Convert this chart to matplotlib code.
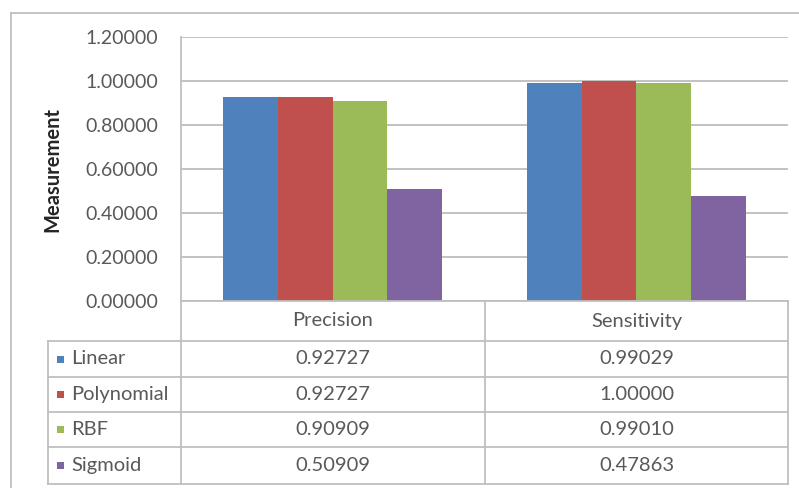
import matplotlib
matplotlib.use("Agg")
import matplotlib.pyplot as plt
from matplotlib.patches import Rectangle
from matplotlib.lines import Line2D

plt.rcParams['font.family'] = ['Lato', 'DejaVu Sans']

categories = ["Precision", "Sensitivity"]
series = ["Linear", "Polynomial", "RBF", "Sigmoid"]
values = {
    "Linear": [0.92727, 0.99029],
    "Polynomial": [0.92727, 1.00000],
    "RBF": [0.90909, 0.99010],
    "Sigmoid": [0.50909, 0.47863],
}
colors = ["#4F81BD", "#C0504D", "#9BBB59", "#8064A2"]
yticks = [0.0, 0.2, 0.4, 0.6, 0.8, 1.0, 1.2]

W, H = 799, 488
fig = plt.figure(figsize=(W / 100, H / 100), dpi=100)
fig.patch.set_facecolor("white")

def fx(px):
    return px / W

def fy(py):
    return 1 - py / H

text_col = "#595959"
grid_col = "#BDBDBD"
line_col = "#BFBFBF"
tsize = 14.5

# plot area geometry (pixels)
left, right, top, bottom = 181, 788, 37, 301
ax = fig.add_axes([fx(left), fy(bottom), fx(right - left), (bottom - top) / H])
ax.set_xlim(-0.5, len(categories) - 0.5)
ax.set_ylim(0, 1.2)

group = 0.72
bw = group / len(series)
for i, (name, c) in enumerate(zip(series, colors)):
    offs = -group / 2 + bw * (i + 0.5)
    ax.bar([k + offs for k in range(len(categories))], values[name], width=bw,
           color=c, zorder=3, linewidth=0)

ax.set_yticks(yticks)
ax.set_yticklabels([f"{t:.5f}" for t in yticks], color=text_col, fontsize=14)
ax.tick_params(axis="y", length=0, pad=16.5)
ax.set_xticks([])
ax.yaxis.grid(True, color=grid_col, linewidth=1.3, zorder=0)
for s in ["top", "right", "bottom"]:
    ax.spines[s].set_visible(False)
ax.spines["left"].set_color(line_col)
ax.spines["left"].set_linewidth(1.3)
ax.set_ylabel("Measurement", fontsize=14.5, fontweight="bold", color="#262626")
ax.yaxis.set_label_coords((62 - left) / (right - left), 0.5)

# data table below the plot area
col_x = [left, 485, right]
row_y = [bottom, 341, 377, 412, 447, 484]
tbl_left = 48

def hline(y, x0, x1):
    fig.add_artist(Line2D([fx(x0), fx(x1)], [fy(y), fy(y)], color=line_col,
                          linewidth=1.3, transform=fig.transFigure))

def vline(x, y0, y1):
    fig.add_artist(Line2D([fx(x), fx(x)], [fy(y0), fy(y1)], color=line_col,
                          linewidth=1.3, transform=fig.transFigure))

hline(row_y[0], col_x[0], col_x[-1])
for y in row_y[1:]:
    hline(y, tbl_left, col_x[-1])
vline(tbl_left, row_y[1], row_y[-1])
for x in col_x:
    vline(x, row_y[0], row_y[-1])

for j, cat in enumerate(categories):
    cx = (col_x[j] + col_x[j + 1]) / 2
    cy = (row_y[0] + row_y[1]) / 2
    fig.text(fx(cx), fy(cy), cat, ha="center", va="center", fontsize=tsize,
             color=text_col)

for i, (name, c) in enumerate(zip(series, colors)):
    cy = (row_y[i + 1] + row_y[i + 2]) / 2
    fig.add_artist(Rectangle((fx(57), fy(cy + 3.5)), 7 / W, 7 / H,
                             facecolor=c, edgecolor="none",
                             transform=fig.transFigure))
    fig.text(fx(71), fy(cy), name, ha="left", va="center", fontsize=tsize,
             color=text_col)
    for j in range(len(categories)):
        cx = (col_x[j] + col_x[j + 1]) / 2
        fig.text(fx(cx), fy(cy), f"{values[name][j]:.5f}", ha="center",
                 va="center", fontsize=tsize, color=text_col)

# outer chart border
vline(10.5, 12.5, H)
hline(12.5, 10.5, W)

fig.savefig("out.png", dpi=100, facecolor="white")
